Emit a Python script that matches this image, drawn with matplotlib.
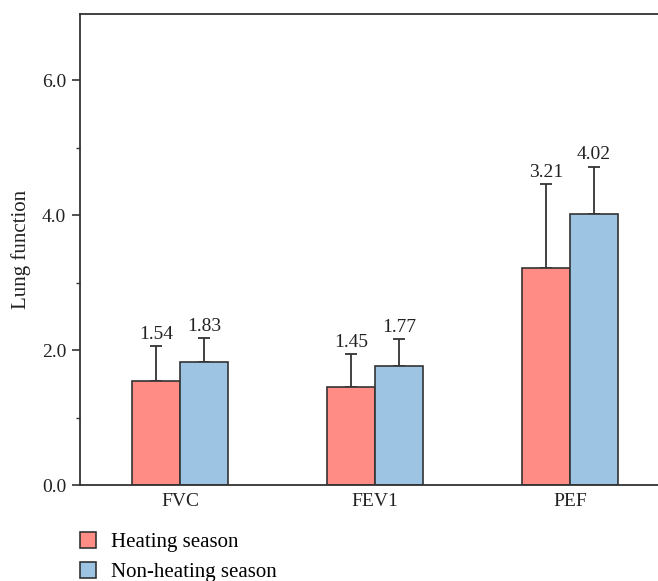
import matplotlib
matplotlib.use("Agg")
import matplotlib.pyplot as plt
import numpy as np
from matplotlib.ticker import MultipleLocator

plt.rcParams['font.family'] = ['Liberation Serif', 'DejaVu Serif']

categories = ["FVC", "FEV1", "PEF"]
heating = [1.54, 1.45, 3.21]
heating_err = [0.52, 0.49, 1.25]
nonheating = [1.83, 1.77, 4.02]
nonheating_err = [0.35, 0.39, 0.70]
series_names = ["Heating season", "Non-heating season"]
yticks = [0.0, 2.0, 4.0, 6.0]

c_heat = "#FF8C85"
c_non = "#9DC4E2"
dark = "#333333"

fig = plt.figure(figsize=(6.58, 5.81), dpi=100)
ax = fig.add_axes([80/658, 96/581, 1 - 80/658, (485-14)/581])

x = np.arange(len(categories))
w = 0.246
b1 = ax.bar(x - w/2, heating, w, color=c_heat, edgecolor=dark, linewidth=1.2,
            label=series_names[0], zorder=2)
b2 = ax.bar(x + w/2, nonheating, w, color=c_non, edgecolor=dark, linewidth=1.2,
            label=series_names[1], zorder=2)
ax.errorbar(x - w/2, heating, yerr=[np.zeros(3), heating_err], fmt='none',
            ecolor=dark, elinewidth=1.3, capsize=4.5, capthick=1.3, zorder=1)
ax.errorbar(x + w/2, nonheating, yerr=[np.zeros(3), nonheating_err], fmt='none',
            ecolor=dark, elinewidth=1.3, capsize=4.5, capthick=1.3, zorder=1)

for xi, v, e in zip(x - w/2, heating, heating_err):
    ax.text(xi, v + e + 0.05, f"{v:.2f}", ha='center', va='bottom', fontsize=14, color='#222222')
for xi, v, e in zip(x + w/2, nonheating, nonheating_err):
    ax.text(xi, v + e + 0.05, f"{v:.2f}", ha='center', va='bottom', fontsize=14, color='#222222')

ax.set_xlim(-0.513, 2.451)
ax.set_ylim(0, 6.98)
ax.set_xticks(x)
ax.set_xticklabels(categories, fontsize=14)
ax.set_yticks(yticks)
ax.set_yticklabels([f"{t:.1f}" for t in yticks], fontsize=14)
ax.yaxis.set_minor_locator(MultipleLocator(1.0))
ax.tick_params(axis='x', length=0, pad=6, colors='#222222')
ax.tick_params(axis='y', which='major', length=6, width=1.2, color=dark, colors='#222222', pad=4)
ax.tick_params(axis='y', which='minor', length=3, width=1.0, color=dark)
ax.set_ylabel("Lung function", fontsize=15, color='#222222', labelpad=8)

for s in ['left', 'bottom', 'top']:
    ax.spines[s].set_color(dark)
    ax.spines[s].set_linewidth(1.3)
ax.spines['right'].set_visible(False)

fig.legend(handles=[b1, b2], labels=series_names, loc='upper left',
           bbox_to_anchor=(80/658, 1 - 532/581), frameon=False, fontsize=15,
           handlelength=0.77, handleheight=0.77, handletextpad=0.72, labelspacing=0.5,
           borderaxespad=0, borderpad=0)

fig.savefig("out.png", dpi=100)
